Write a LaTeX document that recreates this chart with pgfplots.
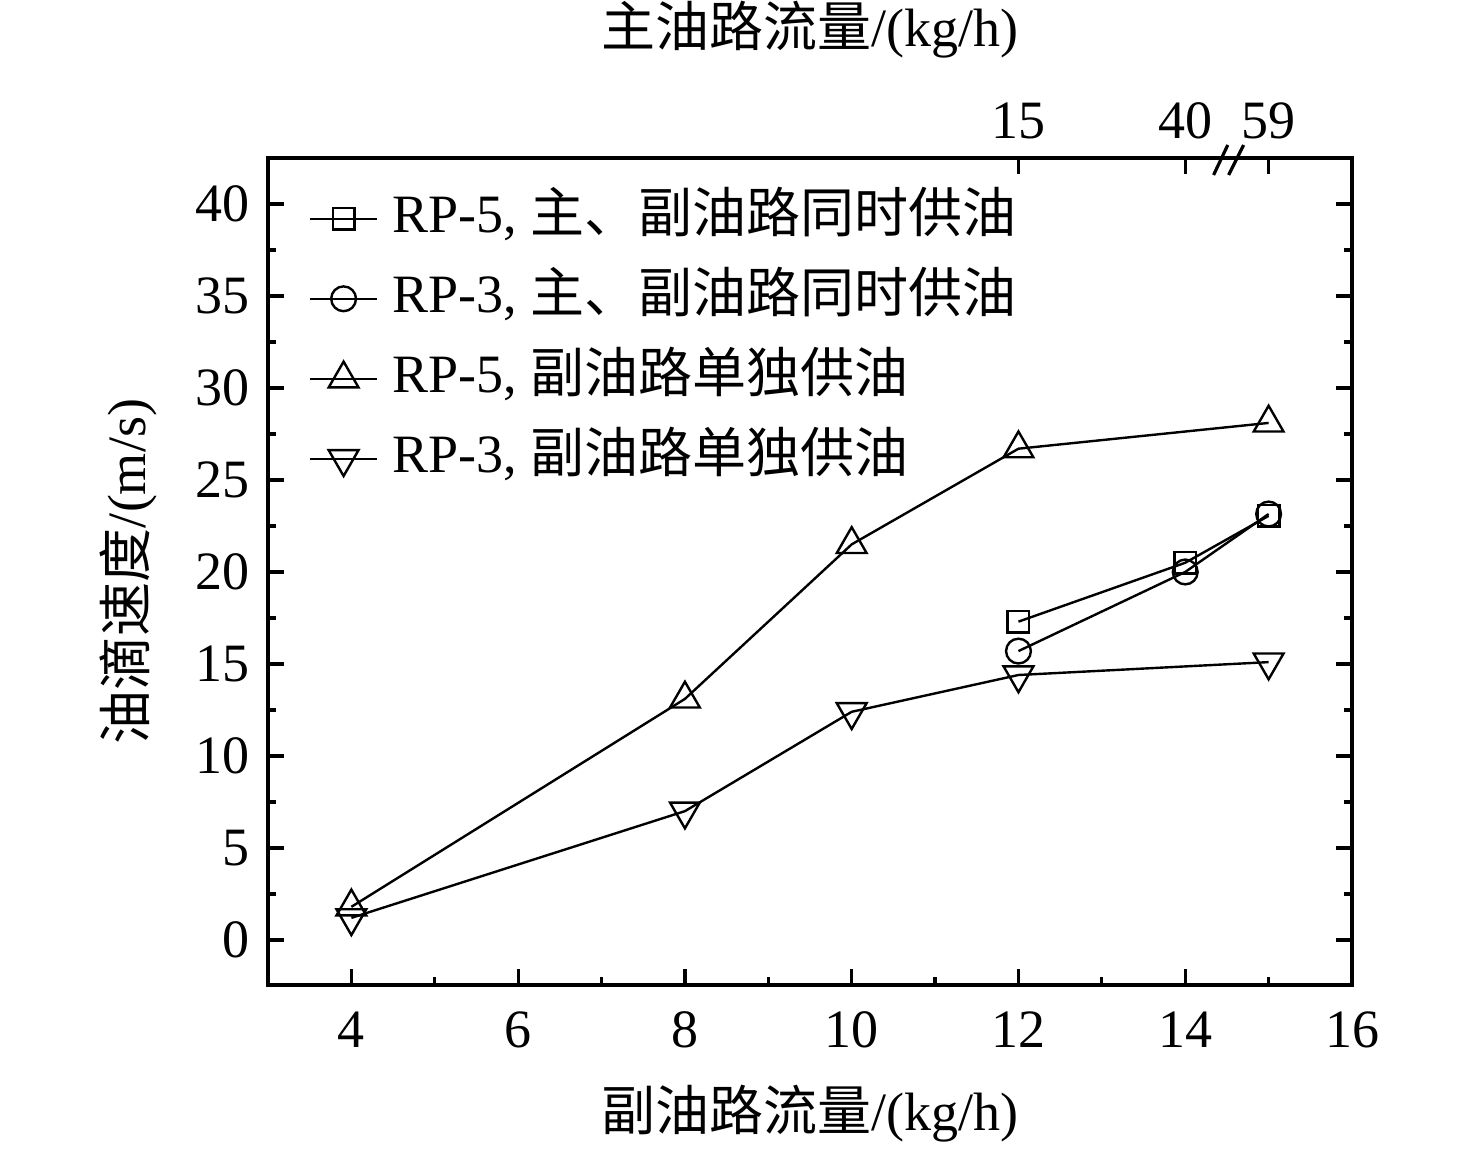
\documentclass[border=0pt]{standalone}
\usepackage{fontspec}
\setmainfont{Liberation Serif}
\newfontfamily\cjk{Noto Sans CJK SC}
\usepackage{pgfplots}
\pgfplotsset{compat=1.18}
\begin{document}
\fontsize{13.5}{16}\selectfont
\begin{tikzpicture}
\begin{axis}[name=ax, scale only axis, width=271pt, height=206.75pt,
  xmin=3, xmax=16, ymin=-2.45, ymax=42.5,
  xtick={4,6,...,16}, ytick={0,5,...,40},
  minor x tick num=1, minor y tick num=1,
  xtick pos=bottom, ytick pos=both, tick align=inside,
  major tick length=4pt, minor tick length=2pt,
  axis line style={line width=1pt},
  tick style={line width=0.8pt, black},
  font=\fontsize{13.5}{16}\selectfont,
  /pgf/number format/assume math mode=true,
  xticklabel style={yshift=-2pt},
  xlabel={{\cjk 副油路流量}/(kg/h)},
  xlabel style={at={(axis description cs:0.5,-0.155)}, anchor=center},
  ylabel={{\cjk 油滴速度}/(m/s)},
  ylabel style={at={(axis description cs:-0.129,0.5)}, anchor=center, rotate=0},
  legend cell align=left,
  legend image code/.code={\draw[mark repeat=2,mark phase=2] plot coordinates {(0pt,0pt) (8.4pt,0pt) (16.75pt,0pt)};},
  legend style={at={(axis description cs:0,1)}, anchor=north west, xshift=10pt, yshift=-6.5pt,
    draw=none, fill=none, inner sep=0pt, row sep=3pt,
    nodes={inner sep=1pt, text height=11pt, text depth=4pt},
    /tikz/every odd column/.append style={column sep=2.5pt}},
]
\addplot[black, line width=0.6pt, mark=square, mark size=2.7pt, mark options={solid, line width=0.6pt}]
  coordinates {(12,17.3) (14,20.5) (15,23.05)};
\addlegendentry{RP-5, {\cjk 主、副油路同时供油}}
\addplot[black, line width=0.6pt, mark=o, mark size=3.1pt, mark options={solid, line width=0.6pt}]
  coordinates {(12,15.7) (14,20.0) (15,23.15)};
\addlegendentry{RP-3, {\cjk 主、副油路同时供油}}
\addplot[black, line width=0.6pt, mark=triangle, mark size=4.3pt, mark options={solid, line width=0.6pt}]
  coordinates {(4,1.8) (8,13.1) (10,21.5) (12,26.7) (15,28.1)};
\addlegendentry{RP-5, {\cjk 副油路单独供油}}
\addplot[black, line width=0.6pt, mark=triangle, mark size=4.3pt, mark options={solid, line width=0.6pt, rotate=180}]
  coordinates {(4,1.2) (8,7.0) (10,12.4) (12,14.4) (15,15.1)};
\addlegendentry{RP-3, {\cjk 副油路单独供油}}
\end{axis}
\begin{axis}[scale only axis, width=271pt, height=206.75pt,
  xmin=3, xmax=16, ymin=-2.45, ymax=42.5,
  axis x line*=top, axis y line=none, clip=false,
  xtick={12,14,15}, xticklabels={15,40,59}, minor x tick num=0,
  tick align=inside, major tick length=4pt,
  axis line style={line width=1pt},
  tick style={line width=0.8pt, black},
  font=\fontsize{13.5}{16}\selectfont,
  xlabel={{\cjk 主油路流量}/(kg/h)},
  xlabel style={at={(axis description cs:0.5,1.155)}, anchor=center},
]
\addplot[draw=none, forget plot] coordinates {(12,0)};
\draw[line width=0.8pt] ([yshift=-4.25pt]axis cs:14.34,42.5) -- ([yshift=3.25pt]axis cs:14.51,42.5);
\draw[line width=0.8pt] ([yshift=-4.25pt]axis cs:14.52,42.5) -- ([yshift=3.25pt]axis cs:14.70,42.5);
\end{axis}
\pgfresetboundingbox
\path[use as bounding box] ([xshift=-67pt,yshift=-41pt]ax.south west) rectangle ++(369pt,287.25pt);
\end{tikzpicture}
\end{document}
